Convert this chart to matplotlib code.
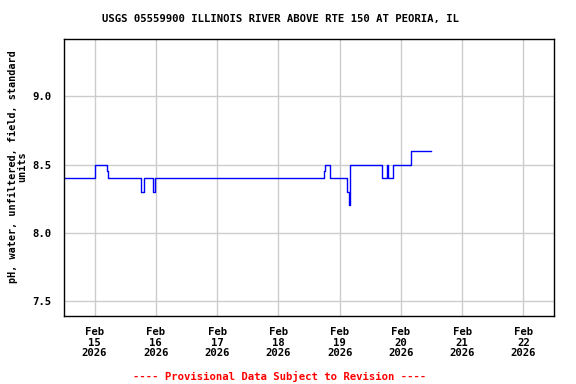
import matplotlib
matplotlib.use("Agg")
import matplotlib.pyplot as plt
import pandas as pd

# step changes of the pH record (time, value)
times = ["2026-02-14 12:00", "2026-02-15 00:00", "2026-02-15 04:45", "2026-02-15 05:15",
         "2026-02-15 18:00", "2026-02-15 19:15", "2026-02-15 22:45", "2026-02-15 23:45",
         "2026-02-18 17:45", "2026-02-18 18:05", "2026-02-18 20:05", "2026-02-19 03:05",
         "2026-02-19 03:30", "2026-02-19 04:00", "2026-02-19 04:15", "2026-02-19 16:45",
         "2026-02-19 18:30", "2026-02-19 19:00", "2026-02-19 20:45", "2026-02-20 04:00",
         "2026-02-20 11:45"]
ph = [8.4, 8.5, 8.45, 8.4,
      8.3, 8.4, 8.3, 8.4,
      8.45, 8.5, 8.4, 8.3,
      8.2, 8.4, 8.5, 8.4,
      8.5, 8.4, 8.5, 8.6,
      8.6]
tick_days = ["2026-02-15", "2026-02-16", "2026-02-17", "2026-02-18",
             "2026-02-19", "2026-02-20", "2026-02-21", "2026-02-22"]
yticks = [7.5, 8.0, 8.5, 9.0]

t = pd.to_datetime(times)
ticks = pd.to_datetime(tick_days)

font = ["DejaVu Sans Mono"]
fs = 7.7
fig = plt.figure(figsize=(5.76, 3.84), dpi=100)
ax = fig.add_axes([64/576, 68/384, 490/576, 277/384])

ax.plot(t, ph, drawstyle="steps-post", color="#0000ff", lw=1)

ax.set_xlim(pd.Timestamp("2026-02-14 12:00"), pd.Timestamp("2026-02-22 12:00"))
ax.set_ylim(7.39, 9.42)
ax.set_xticks(ticks)
ax.set_xticklabels([d.strftime("%b\n%d\n%Y") for d in ticks], family=font,
                   fontweight="bold", fontsize=fs, linespacing=1.05)
ax.set_yticks(yticks)
ax.set_yticklabels([f"{v:.1f}" for v in yticks], family=font, fontweight="bold", fontsize=fs)
ax.grid(True, color="#cccccc", lw=1)
ax.set_axisbelow(True)
ax.tick_params(axis="y", length=0, pad=9)
ax.tick_params(axis="x", length=0, pad=8)
for s in ax.spines.values():
    s.set_linewidth(1)

ax.set_ylabel("pH, water, unfiltered, field, standard\nunits", family=font,
              fontweight="bold", fontsize=7.3, linespacing=1.0)
ax.yaxis.set_label_coords(-0.074, 0.54)
fig.text(280/576, 1 - 19/384, "USGS 05559900 ILLINOIS RIVER ABOVE RTE 150 AT PEORIA, IL",
         ha="center", va="center", family=font, fontweight="bold", fontsize=fs)
fig.text(280/576, 1 - 376/384, "---- Provisional Data Subject to Revision ----",
         ha="center", va="center", family=font, fontweight="bold", fontsize=fs, color="red")

fig.savefig("out.png", dpi=100)
